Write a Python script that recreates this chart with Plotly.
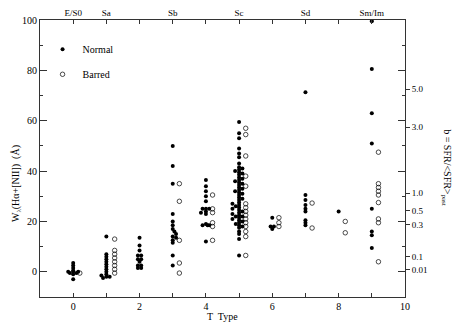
import plotly.graph_objects as go

# Galaxias normales (puntos llenos): T y W(Ha+[NII])
normal_t = [0, 0, 0, 0, -0.15, 0, 0.15, -0.1, 0.1, 0, 0,
            1, 1, 1, 1, 1, 1, 1, 1, 1, 1, 0.85, 1, 1.1, 0.9,
            2, 2, 2, 1.95, 2.05, 1.95, 2.05, 2, 1.95, 2.05, 1.95, 2.05,
            3, 3, 3, 3, 3, 3, 3, 3.05, 3.1, 3, 3.1, 3, 3, 3, 3,
            4, 4, 4, 4, 4, 3.9, 4, 4.1, 4, 3.85, 4, 4, 3.9, 4.05, 4.1, 4,
            5, 5, 5, 5, 5, 5, 5, 5, 5, 5, 5, 5, 5, 5, 5, 5, 5, 5, 5, 5, 5, 5,
            5, 5, 5, 5, 5, 5, 5, 5, 5, 5, 5, 5, 5, 5,
            5.1, 5.1, 5.1, 5.1, 5.1, 5.1, 5.1, 4.88, 4.88, 4.88,
            4.8, 4.8, 4.8, 4.8, 4.9, 4.9, 4.9, 5.1, 5.1, 5.1, 5.1,
            6, 5.95, 6.05, 6,
            7, 7, 7, 7, 7, 7, 7, 7, 7,
            8,
            9, 9, 9, 9, 9, 9, 9, 9]
normal_w = [3.5, 2.5, 1.5, 0.5, 0, 0, 0, -0.5, -0.5, -1, -3,
            14, 7, 6, 5, 4, 3, 2, 1, 0, -1, -1.5, -2, -2, -2.5,
            13.5, 10.5, 8.5, 6.5, 6.5, 5, 5, 4, 2.5, 2.5, 1.5, 1.5,
            50, 42, 35, 23, 20, 18.5, 17, 16, 15, 14, 13.5, 12.5, 11.5, 6.5, 2.5,
            36.5, 34, 32, 30, 28, 25, 25, 25, 24, 23.5, 23, 19, 18.5, 18.5, 18.5, 12,
            59.5, 55, 53, 49, 47, 45.5, 43, 41.5, 40.5, 39.5, 38.5, 37.5, 36.5, 35.5,
            34.5, 33.5, 32.5, 31.5, 30.5, 29.5, 28.5, 27.5,
            26.5, 25.5, 24.5, 23.5, 22.5, 21.5, 20.5, 19.5, 18.5, 17.5, 16, 15, 13, 6.5,
            41, 39, 37, 35, 33, 31, 29, 40, 36, 32,
            27, 25, 23, 21, 26, 22, 19, 24, 22, 20, 18,
            21.5, 18, 18, 17,
            71.3, 30.5, 28.5, 26.5, 25, 24, 20.5, 19.5, 18.5,
            24,
            99.5, 80.5, 63, 51, 25, 16, 14.5, 9.5]

# Galaxias barradas (círculos abiertos)
barred_t = [0.2,
            1.25, 1.25, 1.25, 1.25, 1.25, 1.25, 1.25, 1.25,
            3.2, 3.2, 3.2, 3.2, 3.2,
            4.2, 4.2, 4.2, 4.2, 4.2, 4.2,
            5.2, 5.2, 5.2, 5.2, 5.2, 5.2, 5.2, 5.2, 5.2, 5.2, 5.2, 5.2, 5.2, 5.2, 5.2,
            6.2, 6.2, 6.2,
            7.2, 7.2,
            8.2, 8.2,
            9.2, 9.2, 9.2, 9.2, 9.2, 9.2, 9.2, 9.2, 9.2]
barred_w = [-0.5,
            13, 8.5, 7, 5.5, 4, 2.5, 1, -0.5,
            35, 28, 12.5, 3.5, -0.5,
            30.5, 25, 23.5, 19.5, 18, 12.5,
            57, 54.5, 46, 38, 34, 27, 25.5, 24, 22.5, 21, 19.5, 18, 16, 14, 6.5,
            21.5, 19.5, 18,
            27.3, 17.4,
            20, 15.5,
            47.5, 35, 33.5, 32, 30.5, 27.5, 21, 19.5, 4]

# Etiquetas de tipo morfológico (eje superior)
tipo_pos = [0, 1, 3, 5, 7, 9]
tipo_txt = ['E/S0', 'Sa', 'Sb', 'Sc', 'Sd', 'Sm/Im']

# Eje derecho: b = SFR/<SFR>_past
b_pos = [72.5, 57.4, 31.3, 24.2, 18.6, 5.9, 0.8]
b_txt = ['5.0', '3.0', '1.0', '0.5', '0.3', '0.1', '0.01']

FUENTE = 'Liberation Serif'

fig = go.Figure()
fig.add_trace(go.Scatter(
    x=normal_t, y=normal_w, mode='markers', name='Normal',
    marker=dict(symbol='circle', size=4, color='black'),
    legend='legend'
))
fig.add_trace(go.Scatter(
    x=barred_t, y=barred_w, mode='markers', name='Barred',
    marker=dict(symbol='circle-open', size=4.5, color='black', line=dict(width=0.7)),
    legend='legend2'
))
# trazas vacías para que se dibujen los ejes extra
fig.add_trace(go.Scatter(x=[], y=[], yaxis='y2', showlegend=False))
fig.add_trace(go.Scatter(x=[], y=[], xaxis='x2', showlegend=False))

# la página deja 8 px de margen en el body: se compensa en tamaño y márgenes
fig.update_layout(
    width=452, height=319,
    margin=dict(l=32, r=55, t=12, b=30),
    paper_bgcolor='white', plot_bgcolor='white',
    font=dict(family=FUENTE, size=10, color='black'),
    showlegend=True,
    xaxis=dict(
        range=[-1, 10], tickvals=list(range(-1, 11)),
        ticktext=['' if v % 2 else str(v) for v in range(-1, 11)],
        ticks='inside', ticklen=4, tickcolor='#333', mirror='ticks',
        showline=True, linecolor='#333', linewidth=1, showgrid=False, zeroline=False,
        automargin=False
    ),
    xaxis2=dict(
        overlaying='x', side='top', range=[-1, 10],
        tickvals=tipo_pos, ticktext=tipo_txt, ticks='',
        showline=False, showgrid=False, zeroline=False, ticklabelstandoff=1,
        automargin=False, tickfont=dict(size=9)
    ),
    yaxis=dict(
        range=[-10, 100], tickvals=[0, 20, 40, 60, 80, 100],
        ticks='inside', ticklen=7, tickcolor='#333', mirror='ticks',
        minor=dict(tickvals=[10, 30, 50, 70, 90], ticks='inside', ticklen=3, tickcolor='#333'),
        showline=True, linecolor='#333', linewidth=1, showgrid=False, zeroline=False,
        automargin=False
    ),
    yaxis2=dict(
        overlaying='y', side='right', range=[-10, 100],
        tickvals=b_pos, ticktext=b_txt, ticks='outside', ticklen=4, tickcolor='#333',
        showline=False, showgrid=False, zeroline=False, tickfont=dict(size=9),
        automargin=False
    ),
    legend=dict(x=0.007, y=0.894, xanchor='left', yanchor='middle',
                bgcolor='rgba(0,0,0,0)', font=dict(size=10), itemwidth=30),
    legend2=dict(x=0.007, y=0.804, xanchor='left', yanchor='middle',
                 bgcolor='rgba(0,0,0,0)', font=dict(size=10), itemwidth=30),
    annotations=[
        dict(text='T  Type', x=0.5, y=-0.072, xref='paper', yref='paper',
             xanchor='center', yanchor='middle', showarrow=False, font=dict(size=10)),
        dict(text='W<sub>λ</sub>(Hα+[NII])  (Å)', textangle=-90,
             x=-0.064, y=0.41, xref='paper', yref='paper',
             xanchor='center', yanchor='middle', showarrow=False, font=dict(size=10)),
        dict(text='b = SFR/&lt;SFR&gt;<sub>past</sub>', textangle=90,
             x=1.115, y=0.465, xref='paper', yref='paper',
             xanchor='center', yanchor='middle', showarrow=False, font=dict(size=10)),
    ]
)

fig.write_html('out.html')
